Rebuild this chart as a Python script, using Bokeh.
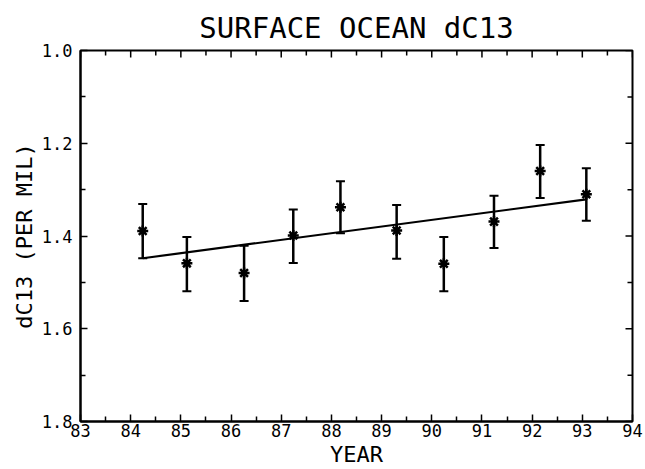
import math
from bokeh.plotting import figure
from bokeh.models import (Range1d, FixedTicker, NumeralTickFormatter,
                          Whisker, TeeHead, ColumnDataSource)
from bokeh.embed import file_html
from bokeh.resources import INLINE

# ---- data ----
years = [84.24, 85.12, 86.26, 87.24, 88.18, 89.30, 90.24, 91.24, 92.16, 93.08]
dc13 = [1.389, 1.459, 1.480, 1.399, 1.338, 1.388, 1.460, 1.369, 1.260, 1.310]
err_low = [1.331, 1.402, 1.421, 1.343, 1.282, 1.333, 1.402, 1.313, 1.204, 1.254]
err_high = [1.448, 1.519, 1.540, 1.458, 1.394, 1.449, 1.519, 1.426, 1.318, 1.367]
fit_years = [84.24, 93.08]
fit_values = [1.448, 1.321]

x_ticks = [83, 84, 85, 86, 87, 88, 89, 90, 91, 92, 93, 94]
x_minor = [83.5, 84.5, 85.5, 86.5, 87.5, 88.5, 89.5, 90.5, 91.5, 92.5, 93.5]
y_ticks = [1.0, 1.2, 1.4, 1.6, 1.8]
y_minor = [1.1, 1.3, 1.5, 1.7]

X_MIN, X_MAX = 83, 94
Y_TOP, Y_BOTTOM = 1.0, 1.8

FONT = "DejaVu Sans Mono"

p = figure(width=645, height=469, output_backend="svg", toolbar_location=None,
           x_range=Range1d(X_MIN, X_MAX), y_range=Range1d(Y_BOTTOM, Y_TOP),
           title="SURFACE OCEAN dC13")
p.min_border_left = 80
p.min_border_right = 13
p.min_border_top = 50
p.min_border_bottom = 48
p.background_fill_color = "white"
p.border_fill_color = "white"
p.outline_line_color = "black"
p.outline_line_width = 2
p.xgrid.visible = False
p.ygrid.visible = False

p.title.text_font = FONT
p.title.text_font_size = "29px"
p.title.text_font_style = "normal"
p.title.align = "center"
p.title.vertical_align = "top"
p.title.text_color = "black"
p.title.standoff = 8

xt = FixedTicker(ticks=x_ticks, minor_ticks=x_minor)
yt = FixedTicker(ticks=y_ticks, minor_ticks=y_minor)

for ax in (p.xaxis[0], p.yaxis[0]):
    ax.axis_line_color = "black"
    ax.axis_line_width = 2
    ax.major_tick_in = 7
    ax.major_tick_out = 0
    ax.minor_tick_in = 5
    ax.minor_tick_out = 0
    ax.major_tick_line_color = "black"
    ax.minor_tick_line_color = "black"
    ax.major_tick_line_width = 1.5
    ax.minor_tick_line_width = 1.5
    ax.major_label_text_font = FONT
    ax.major_label_text_font_size = "17px"
    ax.major_label_text_color = "black"
    ax.axis_label_text_font = FONT
    ax.axis_label_text_font_size = "22px"
    ax.axis_label_text_font_style = "normal"
    ax.axis_label_text_color = "black"

p.xaxis.ticker = xt
p.yaxis.ticker = yt
p.xaxis.formatter = NumeralTickFormatter(format="0")
p.yaxis.formatter = NumeralTickFormatter(format="0.0")
p.xaxis.axis_label = "YEAR"
p.yaxis.axis_label = "dC13 (PER MIL)"
p.xaxis.major_label_standoff = 2
p.xaxis.axis_label_standoff = 2
p.yaxis.major_label_standoff = 8
p.yaxis.axis_label_standoff = 2

# inward ticks on the top and right frame edges (half of each dash is clipped by the frame)
p.scatter(x_ticks, [Y_TOP] * len(x_ticks), marker="dash", size=14, angle=math.pi / 2,
          line_color="black", line_width=1.5)
p.scatter(x_minor, [Y_TOP] * len(x_minor), marker="dash", size=10, angle=math.pi / 2,
          line_color="black", line_width=1.5)
p.scatter([X_MAX] * len(y_ticks), y_ticks, marker="dash", size=14,
          line_color="black", line_width=1.5)
p.scatter([X_MAX] * len(y_minor), y_minor, marker="dash", size=10,
          line_color="black", line_width=1.5)

# regression line
p.line(fit_years, fit_values, line_color="black", line_width=2.2)

# error bars
src = ColumnDataSource(dict(x=years, y=dc13, lo=err_low, hi=err_high))
w = Whisker(source=src, base="x", lower="lo", upper="hi", dimension="height",
            line_color="black", line_width=2.5,
            upper_head=TeeHead(size=9, line_color="black", line_width=2),
            lower_head=TeeHead(size=9, line_color="black", line_width=2))
p.add_layout(w)

# data markers
p.scatter("x", "y", source=src, marker="asterisk", size=11,
          line_color="black", line_width=2.5)

open("out.html", "w").write(file_html(p, INLINE))
